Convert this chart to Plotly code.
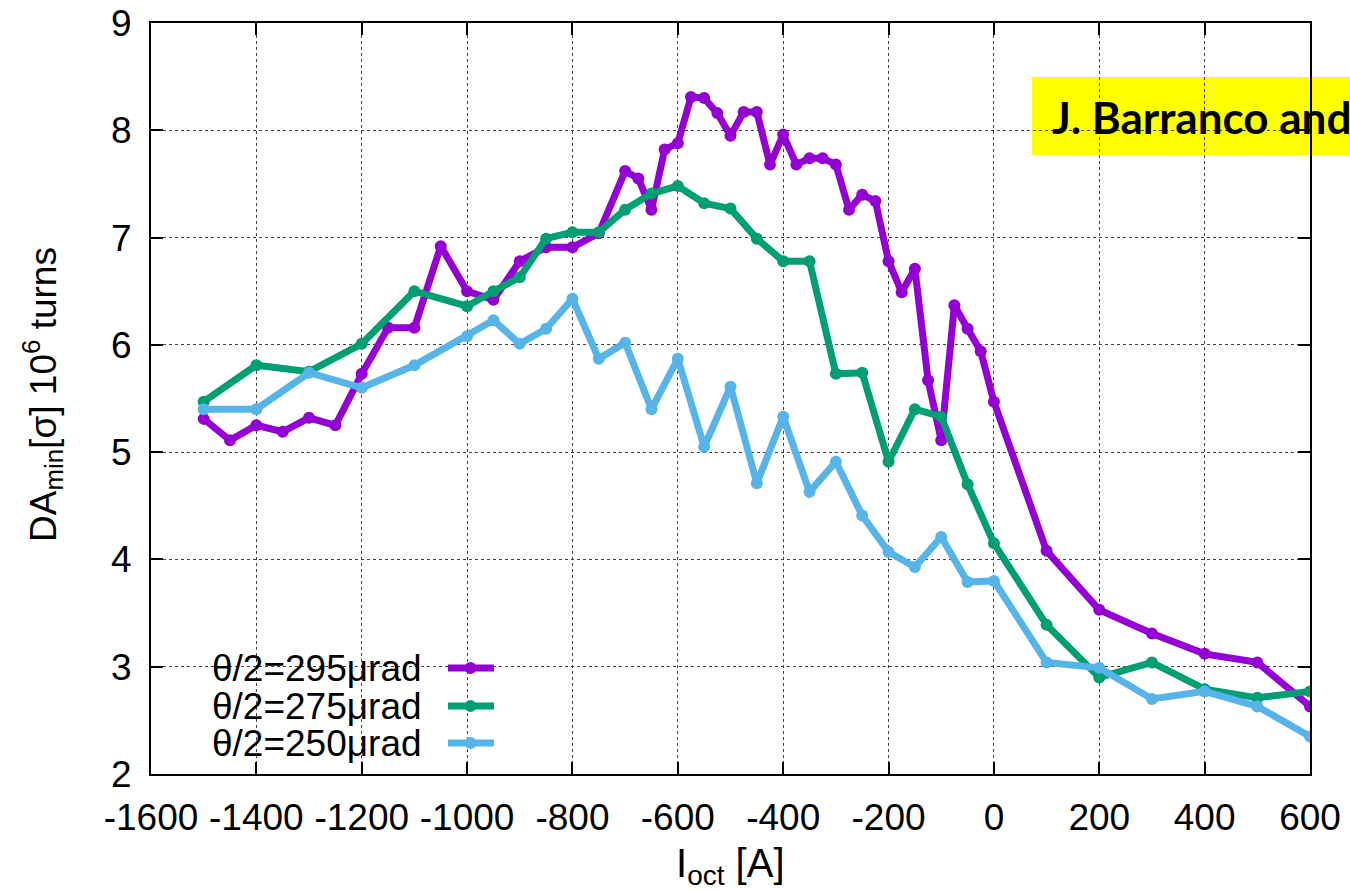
import plotly.graph_objects as go

# ---- data ----
x_295 = [-1500, -1450, -1400, -1350, -1300, -1250, -1200, -1150, -1100, -1050,
         -1000, -950, -900, -850, -800, -750,
         -700, -675, -650, -625, -600, -575, -550, -525, -500, -475, -450, -425,
         -400, -375, -350, -325, -300, -275, -250, -225, -200, -175, -150, -125,
         -100, -75, -50, -25, 0,
         100, 200, 300, 400, 500, 600]
y_295 = [5.31, 5.11, 5.25, 5.19, 5.32, 5.25, 5.73, 6.16, 6.16, 6.92,
         6.50, 6.42, 6.78, 6.91, 6.91, 7.04,
         7.62, 7.55, 7.26, 7.82, 7.88, 8.31, 8.30, 8.16, 7.95, 8.17, 8.17, 7.68,
         7.96, 7.68, 7.74, 7.74, 7.68, 7.26, 7.40, 7.34, 6.78, 6.49, 6.71, 5.67,
         5.11, 6.37, 6.15, 5.94, 5.47,
         4.08, 3.53, 3.31, 3.12, 3.04, 2.63]

x_275 = [-1500, -1400, -1300, -1200, -1100, -1000, -950, -900, -850, -800,
         -750, -700, -650, -600, -550, -500, -450, -400, -350, -300,
         -250, -200, -150, -100, -50, 0,
         100, 200, 300, 400, 500, 600]
y_275 = [5.47, 5.81, 5.75, 6.01, 6.50, 6.36, 6.50, 6.63, 6.99, 7.05,
         7.05, 7.26, 7.41, 7.48, 7.32, 7.27, 6.99, 6.78, 6.78, 5.73,
         5.74, 4.91, 5.40, 5.33, 4.70, 4.15,
         3.39, 2.90, 3.04, 2.79, 2.71, 2.77]

x_250 = [-1500, -1400, -1300, -1200, -1100, -1000, -950, -900, -850, -800,
         -750, -700, -650, -600, -550, -500, -450, -400, -350, -300,
         -250, -200, -150, -100, -50, 0,
         100, 200, 300, 400, 500, 600]
y_250 = [5.40, 5.40, 5.74, 5.60, 5.81, 6.08, 6.23, 6.01, 6.15, 6.43,
         5.87, 6.02, 5.40, 5.87, 5.05, 5.61, 4.71, 5.33, 4.63, 4.91,
         4.41, 4.07, 3.93, 4.21, 3.79, 3.80,
         3.04, 2.99, 2.70, 2.77, 2.63, 2.35]

series_names = ["θ/2=295μrad", "θ/2=275μrad", "θ/2=250μrad"]
series_colors = ["#9400D3", "#009E73", "#56B4E9"]
x_ticks = [-1600, -1400, -1200, -1000, -800, -600, -400, -200, 0, 200, 400, 600]
y_ticks = [2, 3, 4, 5, 6, 7, 8, 9]
note_text = "J. Barranco and"
x_title = "I<sub>oct</sub> [A]"
y_title = "DA<sub>min</sub>[σ] 10<sup>6</sup> turns"

FONT = "Liberation Sans, Arial, sans-serif"
L, R, T, B = 151, 40, 23, 117
PW, PH = 1350 - L - R, 891 - T - B


def px(xp):
    return (xp - L) / PW


def py(yp):
    return (891 - B - yp) / PH


fig = go.Figure()
for xs, ys, name, col in zip([x_295, x_275, x_250], [y_295, y_275, y_250],
                             series_names, series_colors):
    fig.add_trace(go.Scatter(x=xs, y=ys, mode="lines+markers", name=name,
                             line=dict(color=col, width=7),
                             marker=dict(color=col, size=12),
                             showlegend=False))

axis_common = dict(showline=True, linecolor="black", linewidth=2, mirror="ticks",
                   ticks="inside", ticklen=12, tickwidth=1.5, tickcolor="black",
                   showgrid=True, gridcolor="#444444", gridwidth=1, griddash="dot",
                   zeroline=False, automargin=False,
                   tickfont=dict(family=FONT, size=37, color="black"))

fig.update_xaxes(range=[-1600, 600], tickvals=x_ticks,
                 ticktext=[str(v) for v in x_ticks], ticklabelstandoff=10,
                 **axis_common)
fig.update_yaxes(range=[2, 9], tickvals=y_ticks,
                 ticktext=[str(v) for v in y_ticks], ticklabelstandoff=10,
                 **axis_common)

# axis titles as annotations for exact placement
fig.add_annotation(xref="paper", yref="paper", x=px(730), y=py(866),
                   xanchor="center", yanchor="middle", showarrow=False,
                   text=x_title, font=dict(family=FONT, size=40, color="black"))
fig.add_annotation(xref="paper", yref="paper", x=px(42), y=py(395),
                   xanchor="center", yanchor="middle", showarrow=False, textangle=-90,
                   text=y_title, font=dict(family=FONT, size=37, color="black"))

# yellow note box (between grid and traces), text on top
fig.add_shape(type="rect", xref="paper", yref="paper",
              x0=px(1032), x1=px(1400), y0=py(155), y1=py(77),
              fillcolor="#FFFF00", line=dict(width=0), layer="between")
fig.add_annotation(xref="paper", yref="paper", x=px(1050), y=py(117),
                   xanchor="left", yanchor="middle", showarrow=False,
                   text="<b>" + note_text + "</b>",
                   font=dict(family="Lato, sans-serif", size=44, color="black"))

# custom legend (text left, sample right)
leg_y_px = [668, 706, 743]
for name, col, ypx in zip(series_names, series_colors, leg_y_px):
    yp = py(ypx)
    fig.add_annotation(xref="paper", yref="paper", x=px(424), y=yp,
                       xanchor="right", yanchor="middle", showarrow=False,
                       text=name, font=dict(family=FONT, size=37, color="black"))
    fig.add_shape(type="line", xref="paper", yref="paper",
                  x0=px(448), x1=px(494), y0=yp, y1=yp,
                  line=dict(color=col, width=7), layer="above")
    fig.add_shape(type="circle", xref="paper", yref="paper",
                  x0=px(464.5), x1=px(476.5),
                  y0=yp - 6 / PH, y1=yp + 6 / PH,
                  fillcolor=col, line=dict(width=0), layer="above")

fig.update_layout(width=1350, height=891,
                  margin=dict(l=L, r=R, t=T, b=B, autoexpand=False),
                  plot_bgcolor="white", paper_bgcolor="white",
                  font=dict(family=FONT, color="black"))

fig.write_html("out.html")
